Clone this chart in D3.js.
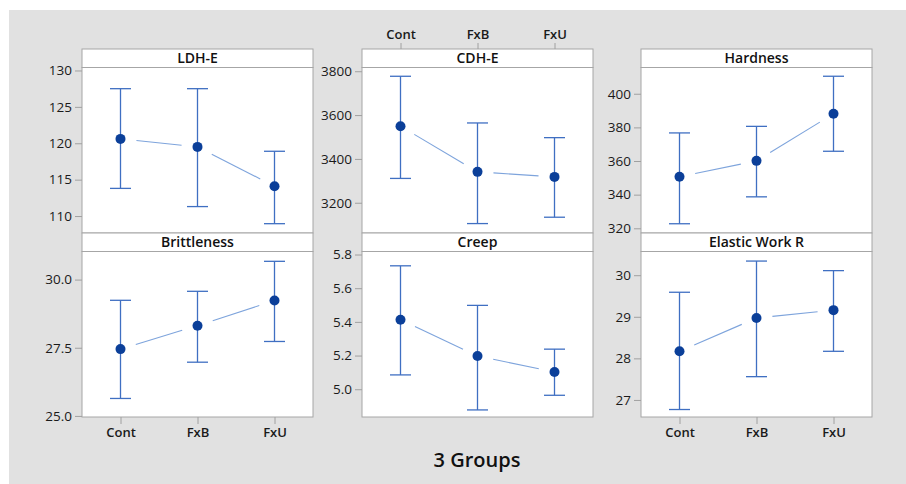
<!DOCTYPE html>
<html><head><meta charset="utf-8">
<script src="https://cdn.jsdelivr.net/npm/d3@7"></script>
<style>
body{margin:0;background:#fff;}
text{font-family:"Open Sans","Noto Sans",sans-serif;}
</style></head>
<body><svg id="c" width="906" height="484"></svg>
<script>
const groups = ["Cont","FxB","FxU"];
const panelNames = ["LDH-E","CDH-E","Hardness","Brittleness","Creep","Elastic Work R"];
// means, lower CI, upper CI per panel (Cont, FxB, FxU)
const ldhMean = [120.6,119.5,114.1], ldhLo = [113.8,111.3,108.95], ldhHi = [127.5,127.5,118.9];
const cdhMean = [3549,3341,3318], cdhLo = [3311,3105,3134], cdhHi = [3777,3564,3497];
const hardMean = [350.6,360.1,388.1], hardLo = [322.7,338.7,365.8], hardHi = [376.7,380.6,410.4];
const britMean = [27.45,28.31,29.23], britLo = [25.64,26.97,27.73], britHi = [29.24,29.57,30.67];
const creepMean = [5.413,5.197,5.102], creepLo = [5.085,4.877,4.964], creepHi = [5.733,5.498,5.238];
const ewMean = [28.17,28.97,29.16], ewLo = [26.77,27.56,28.17], ewHi = [29.59,30.34,30.11];
const ldhTicks = [110,115,120,125,130];
const cdhTicks = [3200,3400,3600,3800];
const hardTicks = [320,340,360,380,400];
const britTicks = [25.0,27.5,30.0];
const creepTicks = [5.0,5.2,5.4,5.6,5.8];
const ewTicks = [27,28,29,30];
const domains = [[107.67,130.41],[3062,3817],[317.2,415.6],[24.96,31.03],[4.835,5.818],[26.59,30.57]];

const panels = [
 {m:ldhMean,lo:ldhLo,hi:ldhHi,t:ldhTicks,f:d3.format("d")},
 {m:cdhMean,lo:cdhLo,hi:cdhHi,t:cdhTicks,f:d3.format("d")},
 {m:hardMean,lo:hardLo,hi:hardHi,t:hardTicks,f:d3.format("d")},
 {m:britMean,lo:britLo,hi:britHi,t:britTicks,f:d3.format(".1f")},
 {m:creepMean,lo:creepLo,hi:creepHi,t:creepTicks,f:d3.format(".1f")},
 {m:ewMean,lo:ewLo,hi:ewHi,t:ewTicks,f:d3.format("d")}
];

const svg = d3.select("#c");
svg.append("rect").attr("x",9).attr("y",10).attr("width",906-9).attr("height",484-10).attr("fill","#e1e1e1");

const colX = [82,362,641], pw = 231;
const rowStripTop = [49,233], stripH = 18.5, rowPlotBottom = [233,417];
const border = "#a6a6a6";

panels.forEach((p,i)=>{
  const col = i%3, row = Math.floor(i/3);
  const x0 = colX[col], sTop = rowStripTop[row], pTop = sTop+stripH, pBot = rowPlotBottom[row];
  const g = svg.append("g");
  const x = d3.scalePoint().domain(groups).range([x0,x0+pw]).padding(0.5);
  const y = d3.scaleLinear().domain(domains[i]).range([pBot,pTop]);
  // strip
  g.append("rect").attr("x",x0).attr("y",sTop).attr("width",pw).attr("height",stripH).attr("fill","#fff").attr("stroke",border);
  g.append("text").attr("x",x0+pw/2).attr("y",sTop+14).attr("text-anchor","middle").attr("font-size",14).attr("font-weight",600).attr("fill","#111").text(panelNames[i]);
  // plot area
  g.append("rect").attr("x",x0).attr("y",pTop).attr("width",pw).attr("height",pBot-pTop).attr("fill","#fff").attr("stroke",border);
  // y axis
  const ya = g.append("g").attr("transform",`translate(${x0},0)`).call(d3.axisLeft(y).tickValues(p.t).tickFormat(p.f).tickSize(7).tickPadding(3));
  ya.select(".domain").remove();
  ya.selectAll("line").attr("stroke","#a0a0a0");
  ya.selectAll("text").attr("font-size",13.5).attr("fill","#1a1a1a").style("font-family","'Open Sans',sans-serif");
  // x axis
  if(row===1 && col!==1){
    const xa = g.append("g").attr("transform",`translate(0,${pBot})`).call(d3.axisBottom(x).tickSize(7).tickPadding(4));
    xa.select(".domain").remove();
    xa.selectAll("line").attr("stroke","#a0a0a0");
    xa.selectAll("text").attr("font-size",13).attr("font-weight",600).attr("fill","#1a1a1a").style("font-family","'Open Sans',sans-serif");
  }
  if(row===0 && col===1){
    const xa = g.append("g").attr("transform",`translate(0,${sTop})`).call(d3.axisTop(x).tickSize(6).tickPadding(4));
    xa.select(".domain").remove();
    xa.selectAll("line").attr("stroke","#a0a0a0");
    xa.selectAll("text").attr("font-size",13).attr("font-weight",600).attr("fill","#1a1a1a").style("font-family","'Open Sans',sans-serif");
  }
  // connectors with gaps
  const gap = 16;
  for(let k=0;k<groups.length-1;k++){
    const ax = x(groups[k]), ay = y(p.m[k]), bx = x(groups[k+1]), by = y(p.m[k+1]);
    const dx = bx-ax, dy = by-ay, L = Math.hypot(dx,dy), ux = dx/L, uy = dy/L;
    g.append("line").attr("x1",ax+ux*gap).attr("y1",ay+uy*gap).attr("x2",bx-ux*gap).attr("y2",by-uy*gap)
     .attr("stroke","#7ea4dc").attr("stroke-width",1.1);
  }
  // error bars
  const cap = 10.5, ec = "#3f6fc2";
  groups.forEach((gname,k)=>{
    const cx = x(gname);
    g.append("line").attr("x1",cx).attr("x2",cx).attr("y1",y(p.lo[k])).attr("y2",y(p.hi[k])).attr("stroke",ec).attr("stroke-width",1.3);
    g.append("line").attr("x1",cx-cap).attr("x2",cx+cap).attr("y1",y(p.lo[k])).attr("y2",y(p.lo[k])).attr("stroke",ec).attr("stroke-width",1.3);
    g.append("line").attr("x1",cx-cap).attr("x2",cx+cap).attr("y1",y(p.hi[k])).attr("y2",y(p.hi[k])).attr("stroke",ec).attr("stroke-width",1.3);
    g.append("circle").attr("cx",cx).attr("cy",y(p.m[k])).attr("r",5).attr("fill","#0b3f99");
  });
});

svg.append("text").attr("x",477).attr("y",467).attr("text-anchor","middle").attr("font-size",20).attr("font-weight",600).attr("fill","#111").text("3 Groups");
</script></body></html>
